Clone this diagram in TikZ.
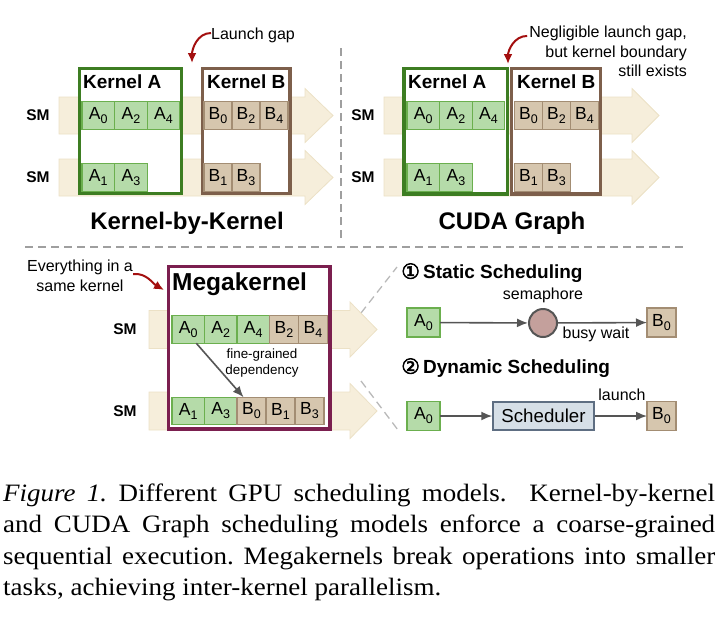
\documentclass[tikz,border=0pt]{standalone}
\usepackage{fontspec}
\setmainfont{Liberation Sans}
\newfontfamily\capfont[FakeStretch=1.08]{Liberation Serif}
\newfontfamily\circfont[FakeBold=2.5]{DejaVu Sans}
\usepackage{tikz}
\usetikzlibrary{shapes.geometric, arrows.meta, positioning}

\definecolor{bandfill}{HTML}{F6EEDB}
\definecolor{bandline}{HTML}{ECE1C6}
\definecolor{acellfill}{HTML}{B5DBA9}
\definecolor{acellline}{HTML}{6BAF4E}
\definecolor{bcellfill}{HTML}{D6C6AE}
\definecolor{bcellline}{HTML}{A38D73}
\definecolor{kernAline}{HTML}{3D7D22}
\definecolor{kernBline}{HTML}{7D5F4B}
\definecolor{megaline}{HTML}{7B1F4F}
\definecolor{gapred}{HTML}{A30F0F}
\definecolor{arrowgray}{HTML}{555555}
\definecolor{semafill}{HTML}{C4A09C}
\definecolor{schedfill}{HTML}{D6DFE7}
\definecolor{schedline}{HTML}{5E6E82}

\newcommand{\tsk}[2]{#1\raisebox{-4pt}{\fontsize{12.5}{14}\selectfont #2}}

\tikzstyle{acell} = [draw=acellline, fill=acellfill, line width=1.2pt, minimum width=32.6pt, minimum height=27.5pt, inner sep=0pt, outer sep=0pt, font=\fontsize{17.5}{19}\selectfont]
\tikzstyle{bcell} = [acell, draw=bcellline, fill=bcellfill, minimum width=28pt]
\tikzstyle{smlabel} = [font=\bfseries\fontsize{15.5}{18}\selectfont]
\tikzstyle{klabel} = [anchor=west, inner sep=0pt, font=\bfseries\fontsize{19}{22}\selectfont]
\tikzstyle{title} = [font=\bfseries\fontsize{24}{28}\selectfont]
\tikzstyle{note} = [inner sep=0pt, font=\fontsize{16}{19.5}\selectfont]
\tikzstyle{band} = [fill=bandfill, draw=bandline, line width=0.8pt]
\tikzstyle{kbox} = [line width=3.3pt, fill=white]
\tikzstyle{gaparrow} = [line width=2pt, draw=gapred, -{Latex[length=10pt,width=9pt]}]
\tikzstyle{arrow} = [line width=1.6pt, draw=arrowgray, -{Latex[length=11pt,width=9pt]}]
\tikzstyle{divider} = [draw=gray!75, line width=1.5pt, dash pattern=on 8pt off 5pt]
\tikzstyle{caption} = [anchor=base west, inner sep=0pt, font=\capfont\fontsize{25}{31}\selectfont]

\begin{document}
\begin{tikzpicture}[x=1pt, y=-1pt]
          \useasboundingbox (0,0) rectangle (720,630);

          % Dividers
          \draw[divider] (341,48) -- (341,240);
          \draw[divider] (25,247) -- (685,247);
          \draw[divider, line width=1.3pt, draw=gray!55] (361,313) -- (397,267);
          \draw[divider, line width=1.3pt, draw=gray!55] (361,381) -- (398,430);

          % SM bands
          \draw[band] (59,97) -- (305,97) -- (305,88.5) -- (333,115.5) -- (305,142.5) -- (305,134) -- (59,134) -- cycle;
          \draw[band] (59,159) -- (305,159) -- (305,150.5) -- (333,177.5) -- (305,204.5) -- (305,196) -- (59,196) -- cycle;
          \draw[band] (384,97) -- (632,97) -- (632,88.5) -- (659,115.5) -- (632,142.5) -- (632,134) -- (384,134) -- cycle;
          \draw[band] (384,159) -- (632,159) -- (632,150.5) -- (659,177.5) -- (632,204.5) -- (632,196) -- (384,196) -- cycle;
          \draw[band] (149,310.5) -- (350,310.5) -- (350,302) -- (377,329.5) -- (350,357) -- (350,348.5) -- (149,348.5) -- cycle;
          \draw[band] (149,392) -- (350,392) -- (350,383.5) -- (377,411) -- (350,438.5) -- (350,430) -- (149,430) -- cycle;

          % Kernel-by-Kernel
          \draw[kbox, draw=kernAline] (79.5,68.5) rectangle (181.5,193.5);
          \draw[kbox, draw=kernBline] (202.5,68.5) rectangle (290,193.5);
          \node[klabel] (kbkKA) at (83,82) {Kernel A};
          \node[klabel] (kbkKB) at (207,82) {Kernel B};
          \node[smlabel] (kbkSM1) at (38,115.5) {SM};
          \node[smlabel] (kbkSM2) at (38,177.5) {SM};
          \node[acell] (kbkA0) at (98.3,115.5) {\tsk{A}{0}};
          \node[acell, right=0pt of kbkA0] (kbkA2) {\tsk{A}{2}};
          \node[acell, right=0pt of kbkA2] (kbkA4) {\tsk{A}{4}};
          \node[acell] (kbkA1) at (98.3,177.5) {\tsk{A}{1}};
          \node[acell, right=0pt of kbkA1] (kbkA3) {\tsk{A}{3}};
          \node[bcell] (kbkB0) at (218,115.5) {\tsk{B}{0}};
          \node[bcell, right=0pt of kbkB0] (kbkB2) {\tsk{B}{2}};
          \node[bcell, right=0pt of kbkB2] (kbkB4) {\tsk{B}{4}};
          \node[bcell] (kbkB1) at (218,177.5) {\tsk{B}{1}};
          \node[bcell, right=0pt of kbkB1] (kbkB3) {\tsk{B}{3}};
          \node[title] (kbkTitle) at (187,223) {Kernel-by-Kernel};
          \node[note, anchor=west] (gapnote) at (211,35) {Launch gap};
          \coordinate (gaptip) at (192,63);
          \draw[gaparrow] ([yshift=2pt]gapnote.west) to[out=180, in=90] (gaptip);

          % CUDA Graph
          \draw[kbox, draw=kernAline] (404,68.5) rectangle (507.3,194);
          \draw[kbox, draw=kernBline] (511.7,68.5) rectangle (600.5,194);
          \node[klabel] (cgKA) at (408,82) {Kernel A};
          \node[klabel] (cgKB) at (517,82) {Kernel B};
          \node[smlabel] (cgSM1) at (363,115.5) {SM};
          \node[smlabel] (cgSM2) at (363,177.5) {SM};
          \node[acell] (cgA0) at (423.3,115.5) {\tsk{A}{0}};
          \node[acell, right=0pt of cgA0] (cgA2) {\tsk{A}{2}};
          \node[acell, right=0pt of cgA2] (cgA4) {\tsk{A}{4}};
          \node[acell] (cgA1) at (423.3,177.5) {\tsk{A}{1}};
          \node[acell, right=0pt of cgA1] (cgA3) {\tsk{A}{3}};
          \node[bcell] (cgB0) at (528.5,115.5) {\tsk{B}{0}};
          \node[bcell, right=0pt of cgB0] (cgB2) {\tsk{B}{2}};
          \node[bcell, right=0pt of cgB2] (cgB4) {\tsk{B}{4}};
          \node[bcell] (cgB1) at (528.5,177.5) {\tsk{B}{1}};
          \node[bcell, right=0pt of cgB1] (cgB3) {\tsk{B}{3}};
          \node[title] (cgTitle) at (512,223) {CUDA Graph};
          \node[note, anchor=east, align=right] (cgnote) at (687,51.5) {Negligible launch gap,\\but kernel boundary\\still exists};
          \coordinate (cgtip) at (508,64);
          \draw[gaparrow] ([xshift=-2pt, yshift=-10pt]cgnote.north west) to[out=180, in=90] (cgtip);

          % Megakernel
          \draw[kbox, draw=megaline] (168.3,266.5) rectangle (330,429);
          \node[anchor=west, inner sep=0pt, font=\bfseries\fontsize{24.5}{28}\selectfont] (mkKM) at (172,284) {Megakernel};
          \node[smlabel] (mkSM1) at (125,329.5) {SM};
          \node[smlabel] (mkSM2) at (125,411) {SM};
          \node[acell, minimum width=32.5pt] (mkA0) at (188.3,329.5) {\tsk{A}{0}};
          \node[acell, minimum width=32.5pt, right=0pt of mkA0] (mkA2) {\tsk{A}{2}};
          \node[acell, minimum width=32.5pt, right=0pt of mkA2] (mkA4) {\tsk{A}{4}};
          \node[bcell, minimum width=29pt, right=0pt of mkA4] (mkB2) {\tsk{B}{2}};
          \node[bcell, minimum width=29pt, right=0pt of mkB2] (mkB4) {\tsk{B}{4}};
          \node[acell, minimum width=32.5pt] (mkA1) at (188.3,411) {\tsk{A}{1}};
          \node[acell, minimum width=32.5pt, right=0pt of mkA1] (mkA3) {\tsk{A}{3}};
          \node[bcell, minimum width=29pt, right=0pt of mkA3] (mkB0) {\tsk{B}{0}};
          \node[bcell, minimum width=29pt, right=0pt of mkB0] (mkB1) {\tsk{B}{1}};
          \node[bcell, minimum width=29pt, right=0pt of mkB1] (mkB3) {\tsk{B}{3}};
          \draw[arrow] ([xshift=8pt]mkA0.south) -- ([xshift=-8pt]mkB0.north);
          \node[align=center, inner sep=0pt, font=\fontsize{13.4}{16}\selectfont] (mkdep) at (262,363) {fine-grained\\dependency};
          \node[note, align=center, font=\fontsize{16}{20}\selectfont] (mknote) at (80,276) {Everything in a\\same kernel};
          \coordinate (mktip) at (164,290);
          \draw[gaparrow] ([yshift=2pt]mknote.east) to[out=5, in=150] (mktip);

          % Static scheduling
          \node[anchor=west, inner sep=0pt, font=\bfseries\fontsize{19}{22}\selectfont] (stTitle) at (401,273) {{\circfont\mdseries\fontsize{21}{22}\selectfont ①}\,Static Scheduling};
          \node[acell, minimum width=33pt, minimum height=29pt] (stA0) at (423.5,322.5) {\tsk{A}{0}};
          \node[circle, draw=arrowgray, fill=semafill, line width=2pt, minimum size=28pt, inner sep=0pt] (sema) at (543,323) {};
          \node[bcell, minimum width=29pt, minimum height=29pt] (stB0) at (661.5,322.5) {\tsk{B}{0}};
          \draw[arrow] (stA0) -- (sema);
          \draw[arrow] (sema) -- (stB0);
          \node[note] (semalbl) at (543,295) {semaphore};
          \node[note] (busylbl) at (596,334) {busy wait};

          % Dynamic scheduling
          \node[anchor=west, inner sep=0pt, font=\bfseries\fontsize{19}{22}\selectfont] (dyTitle) at (401,368) {{\circfont\mdseries\fontsize{21}{22}\selectfont ②}\,Dynamic Scheduling};
          \node[acell, minimum width=33pt, minimum height=29pt] (dyA0) at (423.5,416) {\tsk{A}{0}};
          \node[draw=schedline, fill=schedfill, line width=1.5pt, minimum width=101pt, minimum height=28pt, inner sep=0pt, font=\fontsize{18.7}{22}\selectfont] (sched) at (543.5,416) {Scheduler};
          \node[bcell, minimum width=29pt, minimum height=29pt] (dyB0) at (661.5,416) {\tsk{B}{0}};
          \draw[arrow] (dyA0) -- (sched);
          \draw[arrow] (sched) -- (dyB0);
          \node[note] (launchlbl) at (622,395) {launch};

          % Caption
          \node[caption] (cap1) at (3,501) {\makebox[712pt][s]{{\itshape Figure 1.}\ Different GPU scheduling models. Kernel-by-kernel}};
          \node[caption] (cap2) at (3,532.5) {\makebox[712pt][s]{and CUDA Graph scheduling models enforce a coarse-grained}};
          \node[caption] (cap3) at (3,564) {\makebox[712pt][s]{sequential execution.\ Megakernels break operations into smaller}};
          \node[caption] (cap4) at (3,595.5) {tasks, achieving inter-kernel parallelism.};

        \end{tikzpicture}
\end{document}
